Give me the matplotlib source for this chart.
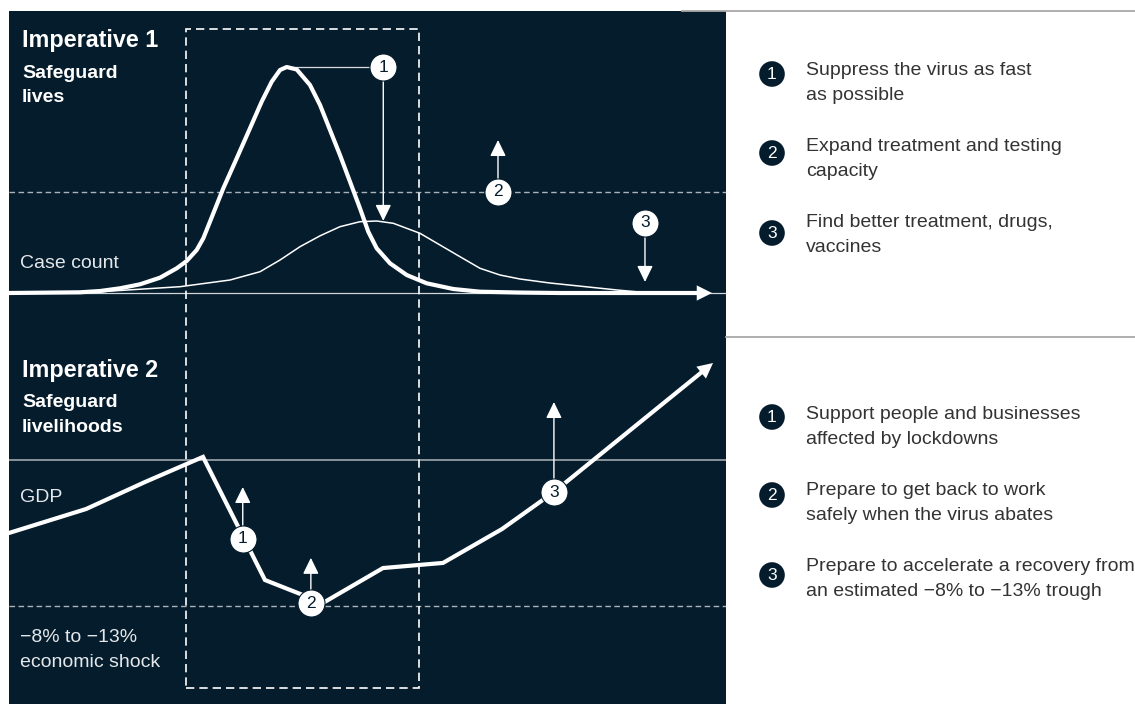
import matplotlib
matplotlib.use('Agg')
import matplotlib.pyplot as plt
from matplotlib.patches import Rectangle, Circle
from matplotlib.transforms import blended_transform_factory

plt.rcParams['font.family'] = ['Liberation Sans', 'DejaVu Sans']

# ---------------- data ----------------
# time axis: 0..100 across the panel
case_t_peak = [0, 9.90, 12.69, 15.48, 18.27, 21.06, 23.39, 24.78, 26.18, 27.10, 28.03,
               29.89, 31.76, 33.61, 35.24, 36.64, 37.80, 38.73, 40.13, 41.98, 43.38,
               44.77, 46.16, 47.56, 48.95, 50.11, 51.28, 53.14, 55.47, 58.26, 61.97,
               65.69, 71.27, 76.85, 98.05]
case_v_peak = [0, 0.31, 0.88, 2.08, 3.85, 6.77, 10.93, 14.16, 19.03, 24.20, 31.55,
               46.33, 59.60, 72.88, 84.65, 93.50, 98.67, 100, 98.9, 92.04, 83.19,
               72.12, 61.06, 49.25, 37.48, 27.12, 19.78, 13.14, 7.96, 4.29, 1.77,
               0.58, 0.2, 0, 0]
case_t_flat = [0, 9.90, 23.85, 30.82, 35.01, 37.80, 40.59, 43.38, 46.16, 48.95, 51.28,
               53.60, 57.32, 60.11, 62.90, 65.69, 68.48, 71.27, 75.45, 84.80, 89.40]
case_v_flat = [0, 0, 2.79, 5.75, 9.42, 14.60, 20.5, 25.3, 29.34, 31.55, 31.86,
               30.84, 26.42, 21.24, 16.06, 10.93, 7.96, 6.19, 4.42, 1.33, 0]
capacity_level = 44.7

gdp_t = [0, 10.74, 18.97, 27.06, 35.70, 43.79, 52.16, 60.53, 68.76, 76.01, 98.19]
gdp_v = [95.0, 96.64, 98.49, 100.21, 91.78, 90.21, 92.60, 92.95, 95.27, 97.81, 106.64]
gdp_precrisis = 100
gdp_shock = 90

lockdown_start, lockdown_end = 24.7, 57.2

mark_labels = ['1', '2', '3']
case_mark_t = [52.2, 68.2, 88.7]
case_mark_v = [100, 44.7, 31.0]
case_mark_tip = [31.9, 67.7, 4.9]
gdp_mark_t = [32.6, 42.1, 76.0]
gdp_mark_v = [94.6, 90.2, 97.8]
gdp_mark_tip = [98.15, 93.3, 103.97]

actions_1 = [["Suppress the virus as fast", "as possible"],
             ["Expand treatment and testing", "capacity"],
             ["Find better treatment, drugs,", "vaccines"]]
actions_2 = [["Support people and businesses", "affected by lockdowns"],
             ["Prepare to get back to work", "safely when the virus abates"],
             ["Prepare to accelerate a recovery from", "an estimated \u22128% to \u221213% trough"]]

# ---------------- styling ----------------
NAVY = '#051C2C'
W, H = 1135, 704
fig = plt.figure(figsize=(W / 100, H / 100), dpi=100)
fig.patch.set_facecolor('white')


def fr(x0, y0, x1, y1):
    return [x0 / W, 1 - y1 / H, (x1 - x0) / W, (y1 - y0) / H]


# navy background panel
fig.add_artist(Rectangle((9 / W, 0), 717 / W, (H - 11) / H, transform=fig.transFigure,
                         facecolor=NAVY, edgecolor='none', zorder=-1))

ax1 = fig.add_axes(fr(9, 11, 726, 330))
ax2 = fig.add_axes(fr(9, 330, 726, 704))
for ax in (ax1, ax2):
    ax.set_facecolor('none')
    ax.set_xticks([])
    ax.set_yticks([])
    for s in ax.spines.values():
        s.set_visible(False)
    ax.set_xlim(0, 100)
ax1.set_ylim(-16.37, 124.78)
ax2.set_ylim(83.29, 108.90)

# ---- top panel: case count ----
ax1.axhline(0, color='#cfd5da', lw=0.9, zorder=1)
ax1.axhline(capacity_level, color='#aab3ba', lw=1.0, ls=(0, (4, 2.5)), zorder=1)
ax1.plot(case_t_flat, case_v_flat, color='white', lw=1.1, zorder=2,
         solid_joinstyle='round')
ax1.plot(case_t_peak[:-1], case_v_peak[:-1], color='white', lw=3, zorder=3,
         solid_joinstyle='round', solid_capstyle='round')
ax1.annotate('', xy=(case_t_peak[-1], case_v_peak[-1]), xytext=(case_t_peak[-2], case_v_peak[-2]),
             arrowprops=dict(arrowstyle='simple,head_length=0.55,head_width=0.55,tail_width=0.15',
                             fc='white', ec='none', lw=0, mutation_scale=20, shrinkA=0, shrinkB=0),
             zorder=3)

# connector from peak to marker 1
ax1.plot([case_t_peak[case_v_peak.index(100)], case_mark_t[0]], [100, 100], color='#d8dde1', lw=0.9, zorder=2)

arrow_kw = dict(arrowstyle='-|>,head_length=0.45,head_width=0.22', color='white', lw=1.0,
                mutation_scale=22, shrinkA=0, shrinkB=0)
for lab, t, v, tip in zip(mark_labels, case_mark_t, case_mark_v, case_mark_tip):
    ax1.annotate('', xy=(t, tip), xytext=(t, v), arrowprops=arrow_kw, zorder=4)
    ax1.plot([t], [v], 'o', ms=19.5, mfc='white', mec=NAVY, mew=0.8, zorder=5)
    ax1.text(t, v, lab, ha='center', va='center', color=NAVY, fontsize=12.5, zorder=6)

# ---- bottom panel: GDP ----
ax2.axhline(gdp_precrisis, color='#9ea7ae', lw=1.2, zorder=1)
ax2.axhline(gdp_shock, color='#aab3ba', lw=1.0, ls=(0, (4, 2.5)), zorder=1)
ax2.plot(gdp_t[:-1], gdp_v[:-1], color='white', lw=3, zorder=3,
         solid_joinstyle='miter', solid_capstyle='round')
ax2.annotate('', xy=(gdp_t[-1], gdp_v[-1]), xytext=(gdp_t[-2], gdp_v[-2]),
             arrowprops=dict(arrowstyle='simple,head_length=0.55,head_width=0.55,tail_width=0.15',
                             fc='white', ec='none', lw=0, mutation_scale=20, shrinkA=0, shrinkB=0),
             zorder=3)
for lab, t, v, tip in zip(mark_labels, gdp_mark_t, gdp_mark_v, gdp_mark_tip):
    ax2.annotate('', xy=(t, tip), xytext=(t, v), arrowprops=arrow_kw, zorder=4)
    ax2.plot([t], [v], 'o', ms=19.5, mfc='white', mec=NAVY, mew=0.8, zorder=5)
    ax2.text(t, v, lab, ha='center', va='center', color=NAVY, fontsize=12.5, zorder=6)

# dashed lockdown box spanning both panels
btr = blended_transform_factory(ax1.transData, fig.transFigure)
fig.add_artist(Rectangle((lockdown_start, 1 - 688 / H), lockdown_end - lockdown_start, (688 - 29) / H,
                         transform=btr, facecolor='none', edgecolor='white', lw=1.2,
                         ls=(0, (5, 3)), zorder=5))

# ---- overlay for labels and side notes (pixel layout) ----
ov = fig.add_axes([0, 0, 1, 1], zorder=10)
ov.set_xlim(0, W)
ov.set_ylim(H, 0)
ov.axis('off')
ov.patch.set_alpha(0)

ov.text(22, 47, 'Imperative 1', color='white', fontsize=16.8, fontweight='bold', va='baseline')
ov.text(22, 78, 'Safeguard', color='white', fontsize=14, fontweight='bold', va='baseline')
ov.text(22, 102, 'lives', color='white', fontsize=14, fontweight='bold', va='baseline')
ov.text(20, 268, 'Case count', color='#e4e8eb', fontsize=14, va='baseline')

ov.text(22, 377, 'Imperative 2', color='white', fontsize=16.8, fontweight='bold', va='baseline')
ov.text(22, 407, 'Safeguard', color='white', fontsize=14, fontweight='bold', va='baseline')
ov.text(22, 432, 'livelihoods', color='white', fontsize=14, fontweight='bold', va='baseline')
ov.text(20, 502, 'GDP', color='#e4e8eb', fontsize=14, va='baseline')
ov.text(20, 642, '\u22128% to \u221213%', color='#e4e8eb', fontsize=14, va='baseline')
ov.text(20, 667, 'economic shock', color='#e4e8eb', fontsize=14, va='baseline')

ov.plot([682, W], [11, 11], color='#a8a8a8', lw=1.3)
ov.plot([726, W], [337, 337], color='#a8a8a8', lw=1.3)

circle_y_1 = [74, 153, 233]
base_y_1 = [75, 151, 227]
circle_y_2 = [417, 495, 575]
base_y_2 = [419, 495, 571]
for cys, bys, acts in ((circle_y_1, base_y_1, actions_1), (circle_y_2, base_y_2, actions_2)):
    for lab, cy, by, lines in zip(mark_labels, cys, bys, acts):
        ov.add_patch(Circle((772, cy), 12.8, facecolor=NAVY, edgecolor='none'))
        ov.text(772, cy + 0.5, lab, color='white', fontsize=12.5, ha='center', va='center')
        for i, ln in enumerate(lines):
            ov.text(806, by + i * 25, ln, color='#333333', fontsize=14, va='baseline', clip_on=False)

fig.savefig('out.png', dpi=100, facecolor='white')
